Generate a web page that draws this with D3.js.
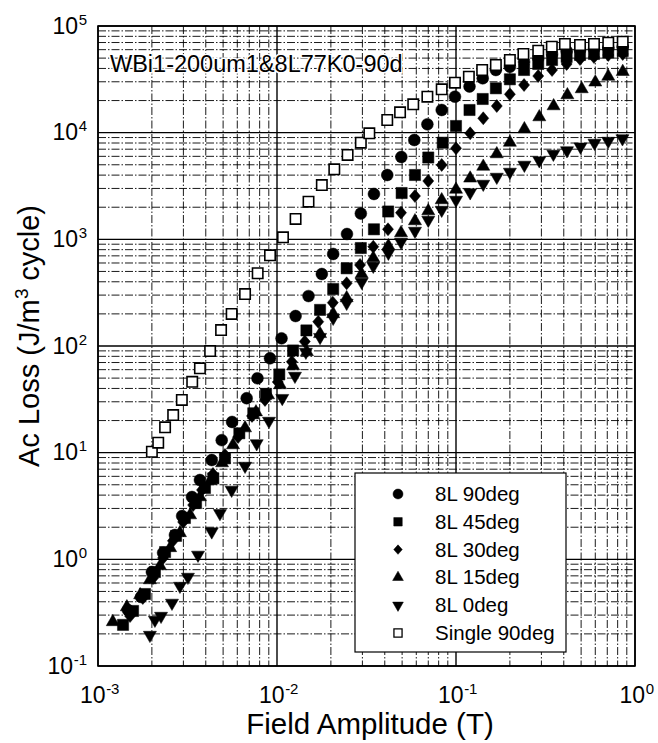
<!DOCTYPE html>
<html>
<head>
<meta charset="utf-8">
<script src="https://cdn.jsdelivr.net/npm/d3@7"></script>
<style>
body { margin: 0; background: #fff; }
text { font-family: 'Liberation Sans', Arial, Helvetica, sans-serif; fill: #000; }
</style>
</head>
<body>
<script>
const width = 658
const height = 743
const margin = { top: 26, right: 23, bottom: 77, left: 98 }
const innerWidth = width - margin.left - margin.right
const innerHeight = height - margin.top - margin.bottom

// series: field amplitude (T) and loss (J/m^3 cycle)
const field8L90 = [0.00147, 0.00174, 0.00200, 0.00231, 0.00269, 0.00295, 0.00335, 0.00371, 0.00432, 0.00491, 0.00561, 0.00677, 0.00778, 0.00914, 0.0106, 0.0127, 0.0150, 0.0178, 0.0206, 0.0246, 0.0294, 0.0348, 0.0413, 0.0495, 0.0585, 0.0692, 0.0832, 0.0987, 0.119, 0.141, 0.167, 0.200, 0.240, 0.288, 0.344, 0.415, 0.493, 0.590, 0.709, 0.854]
const loss8L90 = [0.335, 0.444, 0.760, 1.15, 1.69, 2.55, 3.84, 5.54, 8.53, 13.1, 19.4, 32.4, 49.8, 76.7, 118, 191, 294, 473, 729, 1122, 1746, 2661, 4010, 5916, 8531, 11980, 16320, 21740, 27080, 32350, 38690, 41510, 45980, 50120, 54640, 58300, 59570, 60870, 62190, 63550]

const field8L45 = [0.00138, 0.00157, 0.00183, 0.00208, 0.00237, 0.00273, 0.00306, 0.00353, 0.00396, 0.00441, 0.00512, 0.00616, 0.00737, 0.00868, 0.0103, 0.0123, 0.0146, 0.0174, 0.0206, 0.0245, 0.0294, 0.0348, 0.0418, 0.0497, 0.0590, 0.0700, 0.0843, 0.100, 0.119, 0.141, 0.167, 0.200, 0.240, 0.288, 0.344, 0.415, 0.493, 0.590, 0.709, 0.854]
const loss8L45 = [0.243, 0.328, 0.473, 0.760, 1.17, 1.66, 2.44, 3.37, 4.67, 5.75, 8.85, 15.2, 23.4, 35.5, 54.1, 90.8, 140, 218, 342, 535, 829, 1242, 1824, 2718, 4010, 5848, 8054, 11550, 16320, 20690, 26060, 31650, 38690, 44030, 47990, 51200, 53480, 54640, 56450, 58300]

const field8L30 = [0.00151, 0.00178, 0.00203, 0.00231, 0.00262, 0.00299, 0.00340, 0.00381, 0.00439, 0.00512, 0.00606, 0.00725, 0.00857, 0.0101, 0.0121, 0.0143, 0.0170, 0.0205, 0.0245, 0.0291, 0.0345, 0.0417, 0.0493, 0.0590, 0.0700, 0.0832, 0.100, 0.120, 0.142, 0.169, 0.200, 0.240, 0.288, 0.344, 0.415, 0.493, 0.590, 0.709, 0.854]
const loss8L30 = [0.294, 0.434, 0.668, 1.03, 1.49, 2.24, 3.23, 4.47, 6.31, 9.51, 14.0, 22.1, 31.2, 46.0, 71.3, 110, 169, 255, 387, 575, 853, 1242, 1778, 2547, 3523, 4977, 7134, 9860, 13640, 17780, 22890, 27980, 33970, 38690, 44030, 49040, 51200, 53480, 54640]

const field8L15 = [0.00121, 0.00145, 0.00172, 0.00195, 0.00222, 0.00253, 0.00287, 0.00327, 0.00371, 0.00423, 0.00493, 0.00568, 0.00663, 0.00763, 0.00891, 0.0104, 0.0123, 0.0147, 0.0174, 0.0206, 0.0245, 0.0297, 0.0345, 0.0419, 0.0493, 0.0590, 0.0700, 0.0832, 0.100, 0.120, 0.142, 0.169, 0.200, 0.241, 0.292, 0.351, 0.419, 0.504, 0.600, 0.709, 0.854]
const loss8L15 = [0.259, 0.357, 0.463, 0.640, 0.866, 1.28, 1.77, 2.60, 3.84, 5.42, 8.00, 11.8, 17.0, 24.0, 34.7, 43.1, 64.9, 87.9, 130, 200, 282, 473, 668, 866, 1147, 1486, 1843, 2337, 2933, 3733, 4816, 6310, 8090, 10830, 14020, 17780, 22550, 25680, 29670, 33620, 37290]

const field8L0 = [0.00195, 0.00208, 0.00225, 0.00259, 0.00287, 0.00318, 0.00362, 0.00432, 0.00480, 0.00558, 0.00663, 0.00770, 0.00902, 0.0107, 0.0126, 0.0145, 0.0174, 0.0206, 0.0245, 0.0297, 0.0345, 0.0419, 0.0493, 0.0590, 0.0700, 0.0832, 0.100, 0.120, 0.142, 0.169, 0.200, 0.241, 0.292, 0.350, 0.417, 0.496, 0.594, 0.709, 0.851]
const loss8L0 = [0.195, 0.270, 0.294, 0.390, 0.562, 0.683, 1.10, 1.82, 2.70, 4.47, 7.50, 12.2, 19.8, 32.4, 52.3, 87.9, 121, 183, 253, 398, 562, 745, 944, 1197, 1518, 1884, 2337, 2748, 3302, 3840, 4280, 4977, 5483, 6310, 6808, 7386, 8000, 8350, 8820]

const fieldSingle90 = [0.00200, 0.00217, 0.00237, 0.00263, 0.00294, 0.00336, 0.00371, 0.00423, 0.00487, 0.00558, 0.00663, 0.00780, 0.00914, 0.0108, 0.0127, 0.0150, 0.0178, 0.0209, 0.0248, 0.0294, 0.0328, 0.0413, 0.0487, 0.0577, 0.0692, 0.0832, 0.0987, 0.118, 0.140, 0.167, 0.200, 0.238, 0.288, 0.343, 0.406, 0.493, 0.590, 0.709, 0.854]
const lossSingle90 = [10.2, 12.4, 17.3, 22.5, 31.2, 46.2, 61.8, 89.7, 141, 200, 307, 481, 708, 1045, 1552, 2254, 3228, 4536, 6180, 8054, 9860, 13150, 15520, 18450, 21740, 25500, 29410, 33500, 38690, 43080, 47990, 54640, 58670, 63970, 67780, 66350, 67780, 69700, 71260]

const legendLabels = ['8L 90deg', '8L 45deg', '8L 30deg', '8L 15deg', '8L 0deg', 'Single 90deg']
const xDecades = [1e-3, 1e-2, 1e-1, 1e0]
const yDecades = [1e-1, 1e0, 1e1, 1e2, 1e3, 1e4, 1e5]
const chartTitle = 'WBi1-200um1&8L77K0-90d'

const series = [
	{ name: '8L 0deg', field: field8L0, loss: loss8L0, shape: 'down' },
	{ name: '8L 15deg', field: field8L15, loss: loss8L15, shape: 'up' },
	{ name: '8L 30deg', field: field8L30, loss: loss8L30, shape: 'diamond' },
	{ name: '8L 45deg', field: field8L45, loss: loss8L45, shape: 'square' },
	{ name: '8L 90deg', field: field8L90, loss: loss8L90, shape: 'circle' },
	{ name: 'Single 90deg', field: fieldSingle90, loss: lossSingle90, shape: 'open' }
]

const xScale = d3.scaleLog().domain([1e-3, 1]).range([0, innerWidth])
const yScale = d3.scaleLog().domain([1e-1, 1e5]).range([innerHeight, 0])

const svg = d3.select('body')
	.append('svg')
	.attr('width', width)
	.attr('height', height)

const g = svg.append('g')
	.attr('transform', `translate(${margin.left},${margin.top})`)

const isDecade = v => Math.abs(Math.log10(v) - Math.round(Math.log10(v))) < 1e-9

// grid, solid on decades, dash-dot in between
g.append('g')
	.selectAll('line')
	.data(xScale.ticks())
	.join('line')
	.attr('x1', d => xScale(d))
	.attr('x2', d => xScale(d))
	.attr('y1', 0)
	.attr('y2', innerHeight)
	.attr('stroke', '#000')
	.attr('stroke-width', d => isDecade(d) ? 1.4 : 0.9)
	.attr('stroke-dasharray', d => isDecade(d) ? null : '8,2,1.5,2')

g.append('g')
	.selectAll('line')
	.data(yScale.ticks())
	.join('line')
	.attr('x1', 0)
	.attr('x2', innerWidth)
	.attr('y1', d => yScale(d))
	.attr('y2', d => yScale(d))
	.attr('stroke', '#000')
	.attr('stroke-width', d => isDecade(d) ? 1.4 : 0.9)
	.attr('stroke-dasharray', d => isDecade(d) ? null : '8,2,1.5,2')

g.append('text')
	.attr('x', 12)
	.attr('y', 46)
	.attr('font-size', 23.5)
	.attr('stroke', '#fff')
	.attr('stroke-width', 3)
	.attr('paint-order', 'stroke')
	.text(chartTitle)

// marker shapes
const sym = (type, size) => d3.symbol().type(type).size(size)()
const diamond = (w, h) => `M0,${-h / 2}L${w / 2},0L0,${h / 2}L${-w / 2},0Z`

const markerStyle = {
	circle: { d: sym(d3.symbolCircle, 110), fill: '#000', rot: 0 },
	square: { d: sym(d3.symbolSquare, 125), fill: '#000', rot: 0 },
	diamond: { d: diamond(11, 13), fill: '#000', rot: 0 },
	up: { d: sym(d3.symbolTriangle, 74), fill: '#000', rot: 0 },
	down: { d: sym(d3.symbolTriangle, 74), fill: '#000', rot: 180 },
	open: { d: sym(d3.symbolSquare, 108), fill: '#fff', rot: 0 }
}
const legendMarker = {
	circle: sym(d3.symbolCircle, 78),
	square: sym(d3.symbolSquare, 72),
	diamond: diamond(8.5, 9.5),
	up: sym(d3.symbolTriangle, 50),
	down: sym(d3.symbolTriangle, 50),
	open: sym(d3.symbolSquare, 66)
}

series.forEach(s => {
	const st = markerStyle[s.shape]
	g.append('g')
		.selectAll('path')
		.data(s.field.map((f, i) => [f, s.loss[i]]))
		.join('path')
		.attr('d', st.d)
		.attr('transform', d => `translate(${xScale(d[0])},${yScale(d[1])}) rotate(${st.rot})`)
		.attr('fill', st.fill)
		.attr('stroke', '#000')
		.attr('stroke-width', s.shape === 'open' ? 1.6 : 0.5)
})

// frame
g.append('rect')
	.attr('width', innerWidth)
	.attr('height', innerHeight)
	.attr('fill', 'none')
	.attr('stroke', '#000')
	.attr('stroke-width', 1.6)

// tick labels: "10" and its exponent as two texts side by side
const powerLabel = (ticks, side) => ticks.each(function (d) {
	const t = d3.select(this)
	t.select('text').remove()
	const base = t.append('text')
		.attr('font-size', 23)
		.attr('text-anchor', 'start')
		.attr('fill', '#000')
		.text('10')
	const exp = t.append('text')
		.attr('font-size', 15)
		.attr('text-anchor', 'start')
		.attr('fill', '#000')
		.text(Math.round(Math.log10(d)))
	const wb = base.node().getComputedTextLength()
	const we = exp.node().getComputedTextLength()
	if (side === 'bottom') {
		const x0 = -(wb + we) / 2 + 1
		base.attr('x', x0).attr('y', 37)
		exp.attr('x', x0 + wb + 0.5).attr('y', 28)
	} else {
		exp.attr('x', -11 - we).attr('y', -2)
		base.attr('x', -11 - we - wb - 0.5).attr('y', 7)
	}
})

const xAxis = g.append('g')
	.attr('transform', `translate(0,${innerHeight})`)
	.call(d3.axisBottom(xScale).tickValues(xDecades).tickSize(0))
xAxis.select('.domain').remove()
xAxis.selectAll('.tick').call(powerLabel, 'bottom')

const yAxis = g.append('g')
	.call(d3.axisLeft(yScale).tickValues(yDecades).tickSize(0))
yAxis.select('.domain').remove()
yAxis.selectAll('.tick').call(powerLabel, 'left')

svg.append('text')
	.attr('x', 370)
	.attr('y', 734)
	.attr('text-anchor', 'middle')
	.attr('font-size', 29.5)
	.text('Field Amplitude (T)')

// y title built from three texts so the cube can sit raised
const yTitle = svg.append('g')
	.attr('transform', `translate(39,${margin.top + innerHeight / 2 - 10}) rotate(-90)`)
const yt1 = yTitle.append('text').attr('font-size', 29).text('Ac Loss (J/m')
const yt2 = yTitle.append('text').attr('font-size', 19).text('3')
const yt3 = yTitle.append('text').attr('font-size', 29).text('cycle)')
const w1 = yt1.node().getComputedTextLength()
const w2 = yt2.node().getComputedTextLength()
const w3 = yt3.node().getComputedTextLength()
const gap = 29 * 0.278
const y0 = -(w1 + w2 + gap + w3) / 2
yt1.attr('x', y0)
yt2.attr('x', y0 + w1 + 0.5).attr('y', -11)
yt3.attr('x', y0 + w1 + w2 + gap)

// legend
const legendOrder = ['circle', 'square', 'diamond', 'up', 'down', 'open']
const legend = svg.append('g')
	.attr('transform', 'translate(355,473)')

legend.append('rect')
	.attr('width', 211)
	.attr('height', 179)
	.attr('fill', '#fff')
	.attr('stroke', '#000')
	.attr('stroke-width', 1.2)

const rows = legend.selectAll('.row')
	.data(legendLabels)
	.join('g')
	.attr('class', 'row')
	.attr('transform', (d, i) => `translate(0,${21 + i * 27.8})`)

rows.append('path')
	.attr('d', (d, i) => legendMarker[legendOrder[i]])
	.attr('transform', (d, i) => `translate(43,0) rotate(${legendOrder[i] === 'down' ? 180 : 0})`)
	.attr('fill', (d, i) => legendOrder[i] === 'open' ? '#fff' : '#000')
	.attr('stroke', '#000')
	.attr('stroke-width', (d, i) => legendOrder[i] === 'open' ? 1.3 : 0.5)

rows.append('text')
	.attr('x', 80)
	.attr('y', 7)
	.attr('font-size', 20.5)
	.text(d => d)
</script>
</body>
</html>
